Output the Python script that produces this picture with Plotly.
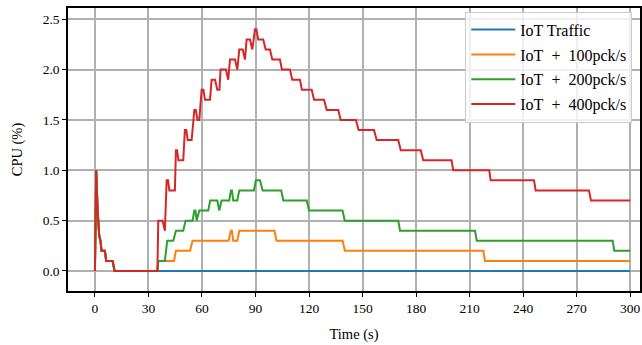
import plotly.graph_objects as go

# Shared start-up spike (all series)
t_spike = [0, 0.7, 1.5, 2.4, 3.1, 3.7, 5.6, 6.3, 9.9, 11.0, 35.0]
v_spike = [0, 1.0, 0.6, 0.35, 0.3, 0.2, 0.2, 0.1, 0.1, 0.0, 0.0]

t_iot = [300]
v_iot = [0.0]

t_100 = [35.5, 44.3, 45.4, 53.3, 54.7, 74.9, 76.2, 76.8, 77.5, 79.8, 80.9,
         100.6, 101.8, 138.8, 140.1, 217.7, 218.6, 300]
v_100 = [0.1, 0.1, 0.2, 0.2, 0.3, 0.3, 0.4, 0.4, 0.3, 0.3, 0.4,
         0.4, 0.3, 0.3, 0.2, 0.2, 0.1, 0.1]

t_200 = [35.5, 39.2, 40.5, 43.9, 45.4, 49.5, 50.8, 54.7, 55.7, 56.3, 57.0, 58.5,
         63.5, 64.6, 68.6, 69.7, 71.0, 75.3, 76.2, 76.8, 77.5, 79.8, 80.9,
         89.1, 90.2, 92.5, 94.0, 104.4, 105.6, 118.7, 120.0, 138.8, 140.0,
         170.0, 171.0, 213.0, 214.0, 290.2, 291.1, 300]
v_200 = [0.1, 0.1, 0.3, 0.3, 0.4, 0.4, 0.5, 0.5, 0.6, 0.6, 0.5, 0.6,
         0.6, 0.7, 0.7, 0.6, 0.7, 0.7, 0.8, 0.8, 0.7, 0.7, 0.8,
         0.8, 0.9, 0.9, 0.8, 0.8, 0.7, 0.7, 0.6, 0.6, 0.5,
         0.5, 0.4, 0.4, 0.3, 0.3, 0.2, 0.2]

t_400 = [35.5, 37.9, 39.2, 40.2, 41.0, 41.7, 44.8, 45.4, 46.0, 46.8, 49.5, 50.4,
         51.2, 52.0, 54.2, 55.7, 56.5, 57.5, 58.5, 59.8, 60.8, 61.7, 64.5, 65.4,
         67.3, 68.6, 69.8, 70.4, 73.4, 74.7, 75.7, 78.5, 79.8, 80.9, 82.8, 84.1,
         85.0, 86.9, 88.2, 89.7, 90.5, 91.5, 94.3, 95.7, 98.1, 99.4, 103.7, 104.8,
         109.3, 110.6, 114.9, 116.0, 121.5, 122.8, 128.4, 129.9, 136.4, 137.7,
         146.3, 147.8, 156.4, 157.9, 170.0, 171.4, 182.6, 184.0, 199.9, 200.8,
         221.0, 221.8, 246.1, 247.0, 276.9, 278.0, 300]
v_400 = [0.5, 0.5, 0.4, 0.9, 0.9, 0.8, 0.8, 1.2, 1.2, 1.1, 1.1, 1.4,
         1.4, 1.3, 1.3, 1.6, 1.6, 1.5, 1.5, 1.8, 1.8, 1.7, 1.7, 1.9,
         1.9, 1.8, 1.8, 2.0, 2.0, 1.9, 2.1, 2.1, 2.0, 2.2, 2.2, 2.1,
         2.3, 2.3, 2.2, 2.4, 2.4, 2.3, 2.3, 2.2, 2.2, 2.1, 2.1, 2.0,
         2.0, 1.9, 1.9, 1.8, 1.8, 1.7, 1.7, 1.6, 1.6, 1.5,
         1.5, 1.4, 1.4, 1.3, 1.3, 1.2, 1.2, 1.1, 1.1, 1.0,
         1.0, 0.9, 0.9, 0.8, 0.8, 0.7, 0.7]

series_names = ["IoT Traffic", "IoT\u00a0\u00a0+\u00a0\u00a0100pck/s",
                "IoT\u00a0\u00a0+\u00a0\u00a0200pck/s", "IoT\u00a0\u00a0+\u00a0\u00a0400pck/s"]
series_t = [t_iot, t_100, t_200, t_400]
series_v = [v_iot, v_100, v_200, v_400]
colors = ["#1f77b4", "#ff7f0e", "#2ca02c", "#d62728"]

x_ticks = list(range(0, 301, 30))
y_ticks = [0.0, 0.5, 1.0, 1.5, 2.0, 2.5]

FONT = "Liberation Serif"

fig = go.Figure()
for i, (name, t, v, c) in enumerate(zip(series_names, series_t, series_v, colors)):
    fig.add_trace(go.Scatter(
        x=t_spike + t, y=v_spike + v, mode="lines", name=name,
        line=dict(color=c, width=2), legendgroup=f"g{i}"))

axis_common = dict(showline=True, linecolor="black", linewidth=1.5, mirror=True,
                   ticks="outside", ticklen=4, tickwidth=1.2, tickcolor="black",
                   showgrid=True, gridcolor="#b0b0b0", gridwidth=1.5,
                   zeroline=False, tickfont=dict(family=FONT, size=13.5, color="black"),
                   automargin=False)

fig.update_xaxes(range=[-15.1, 305.5], tickvals=x_ticks,
                 title=dict(text="Time (s)", font=dict(family=FONT, size=14.5, color="black"), standoff=14),
                 **axis_common)
fig.update_yaxes(range=[-0.199, 2.612], tickvals=y_ticks, tickformat=".1f",
                 title=dict(text="CPU (%)", font=dict(family=FONT, size=14.5, color="black"), standoff=17),
                 **axis_common)

fig.update_layout(
    width=642, height=345,
    margin=dict(l=68, r=2, t=8, b=54),
    plot_bgcolor="white", paper_bgcolor="white",
    font=dict(family=FONT, size=13.5, color="black"),
    legend=dict(x=0.9865, y=0.987, xanchor="right", yanchor="top",
                bgcolor="rgba(255,255,255,0.8)", bordercolor="#cccccc", borderwidth=1,
                font=dict(family=FONT, size=16), tracegroupgap=1,
                itemwidth=44),
    showlegend=True,
)

fig.write_html("out.html", config={"displayModeBar": False},
               post_script="document.body.style.margin='0';document.body.style.overflow='hidden';")
